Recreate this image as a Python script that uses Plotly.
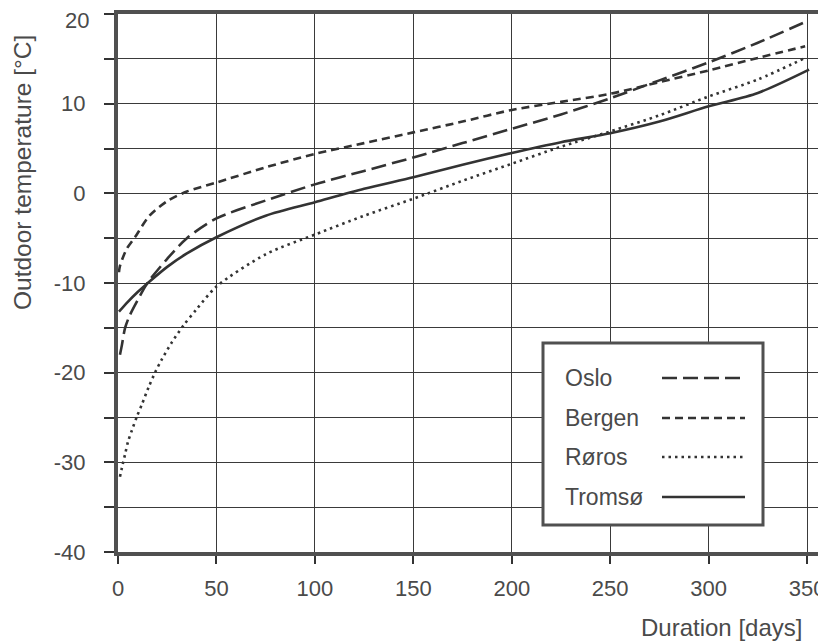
import plotly.graph_objects as go

# ---------------- data ----------------
city_names = ["Oslo", "Bergen", "Røros", "Tromsø"]

oslo_days = [1, 2, 3.6, 6, 11, 14.6, 25, 35, 50, 75, 100, 125, 150, 175, 200, 225, 250, 275, 300, 325, 349]
oslo_temp = [-18.0, -16.9, -15.0, -13.6, -11.5, -10.1, -7.3, -5.0, -2.8, -0.8, 1.0, 2.5, 4.0, 5.6, 7.2, 8.8, 10.6, 12.6, 14.6, 16.8, 19.1]

bergen_days = [0.5, 1, 4.4, 8.6, 16, 25.5, 35, 50, 75, 100, 125, 150, 175, 200, 225, 250, 275, 300, 325, 349]
bergen_temp = [-8.8, -8.1, -6.2, -4.9, -2.5, -0.8, 0.2, 1.2, 2.9, 4.4, 5.6, 6.8, 8.0, 9.3, 10.2, 11.1, 12.4, 13.7, 15.1, 16.4]

roros_days = [1, 2, 3.7, 5.1, 7.1, 9.6, 12.2, 15.6, 19, 22.3, 27.4, 33.4, 40, 50, 75, 100, 125, 150, 175, 200, 225, 250, 275, 300, 325, 349]
roros_temp = [-31.6, -30.6, -29.0, -27.7, -26.4, -24.9, -23.5, -21.6, -19.9, -18.5, -16.6, -14.7, -12.9, -10.4, -6.8, -4.6, -2.5, -0.6, 1.4, 3.3, 5.2, 6.9, 8.7, 10.8, 12.7, 15.1]

tromso_days = [0.5, 5, 10, 14.6, 25, 35, 50, 75, 100, 125, 150, 175, 200, 225, 250, 275, 300, 325, 351]
tromso_temp = [-13.2, -12.1, -11.0, -10.1, -8.2, -6.7, -4.9, -2.5, -1.0, 0.5, 1.8, 3.2, 4.5, 5.7, 6.7, 8.0, 9.7, 11.2, 13.8]

x_tick_vals = [0, 50, 100, 150, 200, 250, 300, 350]
x_tick_text = ["0", "50", "100", "150", "200", "250", "300", "350"]
y_tick_vals = [-40, -35, -30, -25, -20, -15, -10, -5, 0, 5, 10, 15, 20]
y_tick_text = ["-40", "", "-30", "", "-20", "", "-10", "", "0", "", "10", "", "20"]

x_title = "Duration [days]"
y_title = "Outdoor temperature [°C]"

# ---------------- styling ----------------
# the page body has an 8px default margin, so the figure is made 8px smaller
# and all screen positions below are given in window pixels
OFF = 8
W, H = 826 - OFF, 643 - OFF
PLOT_L, PLOT_R, PLOT_T, PLOT_B = 118, 826, 14, 552     # window pixels
ML, MR, MT, MB = PLOT_L - OFF, 826 - PLOT_R, PLOT_T - OFF, (643 - OFF) - (PLOT_B - OFF)
FONT = "Liberation Sans, Arial, Helvetica, sans-serif"
TXT = "#4a4a4a"
INK = "#333333"
GRID = "#3a3a3a"
TICK_SIZE = 22

dashes = ["15px,6px", "8px,5px", "2.5px,4px", "solid"]
series = [(oslo_days, oslo_temp), (bergen_days, bergen_temp),
          (roros_days, roros_temp), (tromso_days, tromso_temp)]

def px_x(p):
    return (p - PLOT_L) / (PLOT_R - PLOT_L)

def px_y(p):
    return (PLOT_B - p) / (PLOT_B - PLOT_T)

fig = go.Figure()
for name, (xs, ys), d in zip(city_names, series, dashes):
    fig.add_trace(go.Scatter(
        x=xs, y=ys, name=name, mode="lines",
        line=dict(color=INK, width=2.6, dash=d, shape="spline", smoothing=0.8),
        showlegend=False, hoverinfo="x+y+name",
    ))

# custom legend (text left, line sample right)
shapes = [dict(type="rect", xref="paper", yref="paper",
               x0=px_x(543), x1=px_x(763), y0=px_y(525), y1=px_y(343),
               line=dict(color="#505050", width=3), fillcolor="white", layer="above")]
annotations = []
legend_rows = [378, 418, 457, 497]
for name, d, row in zip(city_names, dashes, legend_rows):
    annotations.append(dict(text=name, xref="paper", yref="paper",
                            x=px_x(563), y=px_y(row), xanchor="left", yanchor="middle",
                            showarrow=False, font=dict(family=FONT, size=23, color=TXT)))
    shapes.append(dict(type="line", xref="paper", yref="paper",
                       x0=px_x(662), x1=px_x(745), y0=px_y(row), y1=px_y(row),
                       line=dict(color=INK, width=2.6, dash=d), layer="above"))

annotations.append(dict(text=y_title, xref="paper", yref="paper",
                        x=px_x(23), y=px_y(172), xanchor="center", yanchor="middle",
                        textangle=-90, showarrow=False,
                        font=dict(family=FONT, size=24.5, color=TXT)))
annotations.append(dict(text=x_title, xref="paper", yref="paper",
                        x=px_x(804), y=px_y(627), xanchor="right", yanchor="middle",
                        showarrow=False, font=dict(family=FONT, size=24, color=TXT)))

# the topmost y label sits at the page edge: drawn slightly lower (as in the reference)
axis_tick_text = y_tick_text[:-1] + [""]
annotations.append(dict(text=y_tick_text[-1], xref="paper", yref="paper",
                        x=px_x(91), y=px_y(20), xanchor="right", yanchor="middle",
                        showarrow=False, font=dict(family=FONT, size=TICK_SIZE, color=TXT)))

fig.update_layout(
    width=W, height=H,
    margin=dict(l=ML, r=MR, t=MT, b=MB, pad=0, autoexpand=False),
    paper_bgcolor="white", plot_bgcolor="white",
    font=dict(family=FONT, size=TICK_SIZE, color=TXT),
    shapes=shapes, annotations=annotations,
    showlegend=False,
    xaxis=dict(range=[0, 359.6], tickvals=x_tick_vals, ticktext=x_tick_text,
               ticks="outside", ticklen=8, tickwidth=1.5, tickcolor=INK,
               showgrid=True, gridcolor=GRID, gridwidth=1.1, zeroline=False,
               showline=True, linewidth=4, linecolor="#505050", mirror=True,
               automargin=False, ticklabeloverflow="allow",
               tickfont=dict(family=FONT, size=TICK_SIZE, color=TXT), ticklabelstandoff=6),
    yaxis=dict(range=[-40, 20], tickvals=y_tick_vals, ticktext=axis_tick_text,
               ticks="outside", ticklen=10, tickwidth=1.5, tickcolor=INK,
               showgrid=True, gridcolor=GRID, gridwidth=1.1, zeroline=False,
               showline=True, linewidth=4, linecolor="#505050", mirror=False,
               automargin=False, ticklabeloverflow="allow",
               tickfont=dict(family=FONT, size=TICK_SIZE, color=TXT), ticklabelstandoff=14),
)

fig.write_html("out.html")
